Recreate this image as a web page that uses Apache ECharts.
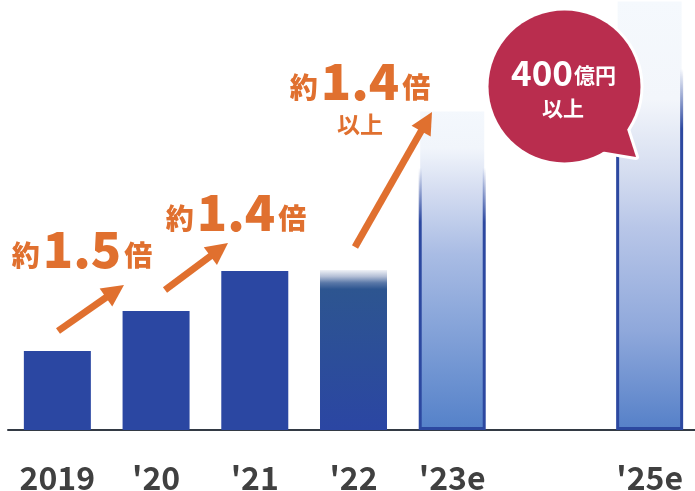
<!DOCTYPE html>
<html>
<head>
<meta charset="utf-8">
<script src="https://cdn.jsdelivr.net/npm/echarts@6/dist/echarts.min.js"></script>
<style>
  html, body { margin: 0; padding: 0; background: #fff; }
  #chart { width: 695px; height: 491px; }
</style>
</head>
<body>
<div id="chart"></div>
<script>
// カテゴリと値（'24は空き）
const categories = ['2019', "'20", "'21", "'22", "'23e", '', "'25e"]
const values = [79, 119, 159, 160, 320, '-', 430]

const FONT = '"Noto Sans CJK JP", "Noto Sans", sans-serif'
const ORANGE = '#e0702f'
const BLUE = '#2b47a2'
const RED = '#b92d4e'

const grad = (stops) => ({
  type: 'linear', x: 0, y: 0, x2: 0, y2: 1,
  colorStops: stops.map(([offset, color]) => ({ offset, color }))
})

// バーごとのスタイル
const barStyle = (i) => {
  if (i === 3) {
    return {
      color: grad([[0, '#f0f2f7'], [0.04, '#b4bfd6'], [0.08, '#5a78a8'], [0.12, '#2d5590'], [1, '#2b46a3']])
    }
  }
  if (i === 4) {
    return {
      color: grad([[0, '#f4f8fd'], [0.12, '#f1f5fb'], [0.25, '#d5ddf1'], [0.45, '#a9bce4'], [1, '#5481c9']]),
      borderColor: grad([[0, 'rgba(44,72,160,0)'], [0.18, 'rgba(44,72,160,0)'], [0.35, '#2c48a0'], [1, '#2c48a0']]),
      borderWidth: 3
    }
  }
  if (i === 6) {
    return {
      color: grad([[0, '#f5f9fd'], [0.23, '#f3f6fb'], [0.4, '#d5ddf0'], [0.53, '#b8c6e8'], [0.77, '#8fa8db'], [1, '#5580c8']]),
      borderColor: grad([[0, 'rgba(44,72,160,0)'], [0.16, 'rgba(44,72,160,0)'], [0.3, '#2c48a0'], [1, '#2c48a0']]),
      borderWidth: 3
    }
  }
  return { color: BLUE }
}

// 矢印
const arrow = (x1, y1, x2, y2) => {
  const len = Math.hypot(x2 - x1, y2 - y1)
  const ux = (x2 - x1) / len, uy = (y2 - y1) / len
  const hl = 22, hw = 11
  const bx = x2 - ux * hl, by = y2 - uy * hl
  return {
    type: 'group',
    children: [
      {
        type: 'line', z: 50,
        shape: { x1, y1, x2: bx + ux * 2, y2: by + uy * 2 },
        style: { stroke: ORANGE, lineWidth: 7 }
      },
      {
        type: 'polygon', z: 50,
        shape: { points: [[x2, y2], [bx - uy * hw, by + ux * hw], [bx + uy * hw, by - ux * hw]] },
        style: { fill: ORANGE }
      }
    ]
  }
}

// 倍率ラベル
const ratioLabel = (x, y, num) => ({
  type: 'text',
  x, y,
  z: 50,
  style: {
    text: '{a|約}{b|' + num + '}{a|倍}',
    align: 'center',
    verticalAlign: 'bottom',
    rich: {
      a: { fontFamily: FONT, fontSize: 28, fontWeight: 900, fill: ORANGE, verticalAlign: 'bottom', lineHeight: 50, padding: [0, 1, 5, 1] },
      b: { fontFamily: FONT, fontSize: 50, fontWeight: 900, fill: ORANGE, verticalAlign: 'bottom', lineHeight: 50, padding: [0, 2, 0, 2] }
    }
  }
})

const cx = 564.5, cy = 86.5
const tail = [[626, 126], [636, 157], [600, 151]]

const chart = echarts.init(document.getElementById('chart'))
chart.setOption({
  animation: false,
  grid: { left: 8, right: -4, top: 0, bottom: 61, outerBoundsMode: 'none' },
  xAxis: {
    type: 'category',
    data: categories,
    axisTick: { show: false },
    axisLine: { lineStyle: { color: '#333a44', width: 2 } },
    axisLabel: {
      interval: 0,
      margin: 32,
      fontFamily: FONT,
      fontSize: 32,
      fontWeight: 'bold',
      color: '#404040'
    }
  },
  yAxis: { type: 'value', min: 0, max: 430, show: false },
  series: [
    {
      type: 'bar',
      barWidth: 67,
      data: values.map((v, i) => ({ value: v, itemStyle: barStyle(i) }))
    }
  ],
  graphic: [
    arrow(58, 331, 124, 285),
    arrow(165, 290, 228, 243),
    arrow(355, 247, 432, 112),
    ratioLabel(82, 274, '1.5'),
    ratioLabel(236, 237, '1.4'),
    ratioLabel(360, 106, '1.4'),
    {
      type: 'text', x: 360, y: 124, z: 50,
      style: { text: '以上', fontFamily: FONT, fontSize: 23, fontWeight: 'bold', fill: ORANGE, align: 'center', verticalAlign: 'middle' }
    },
    // 吹き出し
    {
      type: 'group',
      children: [
        { type: 'polygon', z: 60, shape: { points: tail }, style: { fill: '#fff', stroke: '#fff', lineWidth: 6, lineJoin: 'round' } },
        { type: 'circle', z: 60, shape: { cx, cy, r: 79 }, style: { fill: '#fff' } },
        { type: 'polygon', z: 61, shape: { points: tail }, style: { fill: RED } },
        { type: 'circle', z: 61, shape: { cx, cy, r: 76 }, style: { fill: RED } },
        {
          type: 'text', x: cx - 1, y: 90, z: 62,
          style: {
            text: '{n|400}{u|億円}',
            align: 'center',
            verticalAlign: 'bottom',
            rich: {
              n: { fontFamily: FONT, fontSize: 35, fontWeight: 'bold', fill: '#fff', verticalAlign: 'bottom', lineHeight: 35 },
              u: { fontFamily: FONT, fontSize: 21, fontWeight: 'bold', fill: '#fff', verticalAlign: 'bottom', lineHeight: 35, padding: [0, 0, 4, 1] }
            }
          }
        },
        {
          type: 'text', x: 563, y: 108, z: 62,
          style: { text: '以上', fontFamily: FONT, fontSize: 21, fontWeight: 'bold', fill: '#fff', align: 'center', verticalAlign: 'middle' }
        }
      ]
    }
  ]
})
</script>
</body>
</html>
